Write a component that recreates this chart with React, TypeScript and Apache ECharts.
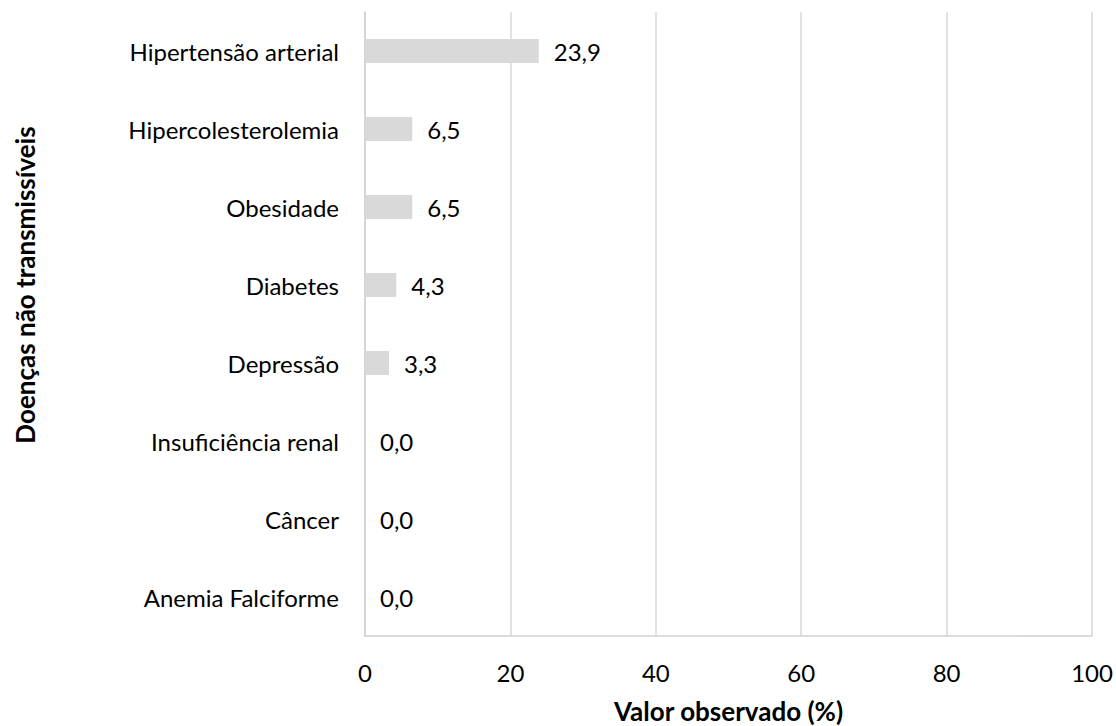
import React, { useEffect, useRef } from "react";
import * as echarts from "echarts";

const categories = [
  "Hipertensão arterial",
  "Hipercolesterolemia",
  "Obesidade",
  "Diabetes",
  "Depressão",
  "Insuficiência renal",
  "Câncer",
  "Anemia Falciforme",
];
const values = [23.9, 6.5, 6.5, 4.3, 3.3, 0.0, 0.0, 0.0];
const xTicks = [0, 20, 40, 60, 80, 100];
const xTitle = "Valor observado (%)";
const yTitle = "Doenças não transmissíveis";

const FONT = "Lato, 'Open Sans', sans-serif";

export default function App() {
  const ref = useRef<HTMLDivElement>(null);
  useEffect(() => {
    document.body.style.margin = "0";
    const chart = echarts.init(ref.current!, undefined, { renderer: "svg" });
    chart.setOption({
      animation: false,
      textStyle: { fontFamily: FONT },
      grid: {
        left: 365,
        right: 24,
        top: 12,
        bottom: 90,
        containLabel: false,
        outerBoundsMode: "none",
      },
      xAxis: {
        type: "value",
        min: xTicks[0],
        max: xTicks[xTicks.length - 1],
        interval: 20,
        name: xTitle,
        nameLocation: "middle",
        nameGap: 62,
        nameTextStyle: { fontFamily: FONT, fontSize: 26, fontWeight: "bold", color: "#000" },
        axisLine: { show: true, lineStyle: { color: "#d0d0d0", width: 1.5 } },
        axisTick: { show: false },
        axisLabel: { fontFamily: FONT, fontSize: 24, color: "#000", margin: 24 },
        splitLine: { show: true, lineStyle: { color: "#d9d9d9", width: 1.5 } },
      },
      yAxis: {
        type: "category",
        data: categories,
        inverse: true,
        axisLine: { show: true, lineStyle: { color: "#d0d0d0", width: 1.5 } },
        axisTick: { show: false },
        axisLabel: { fontFamily: FONT, fontSize: 24, color: "#000", margin: 26 },
        splitLine: { show: false },
      },
      graphic: [
        {
          type: "text",
          x: 25,
          y: 285,
          rotation: Math.PI / 2,
          style: {
            text: yTitle,
            fontFamily: FONT,
            fontSize: 26,
            fontWeight: "bold",
            fill: "#000",
            align: "center",
            verticalAlign: "middle",
          },
        },
      ],
      series: [
        {
          type: "bar",
          data: values,
          barWidth: 24,
          itemStyle: { color: "#d9d9d9" },
          label: {
            show: true,
            position: "right",
            distance: 15,
            fontFamily: FONT,
            fontSize: 24,
            color: "#000",
            formatter: (p: any) => Number(p.value).toFixed(1).replace(".", ","),
          },
        },
      ],
    });
    return () => chart.dispose();
  }, []);
  return <div ref={ref} style={{ width: 1116, height: 726 }} />;
}
